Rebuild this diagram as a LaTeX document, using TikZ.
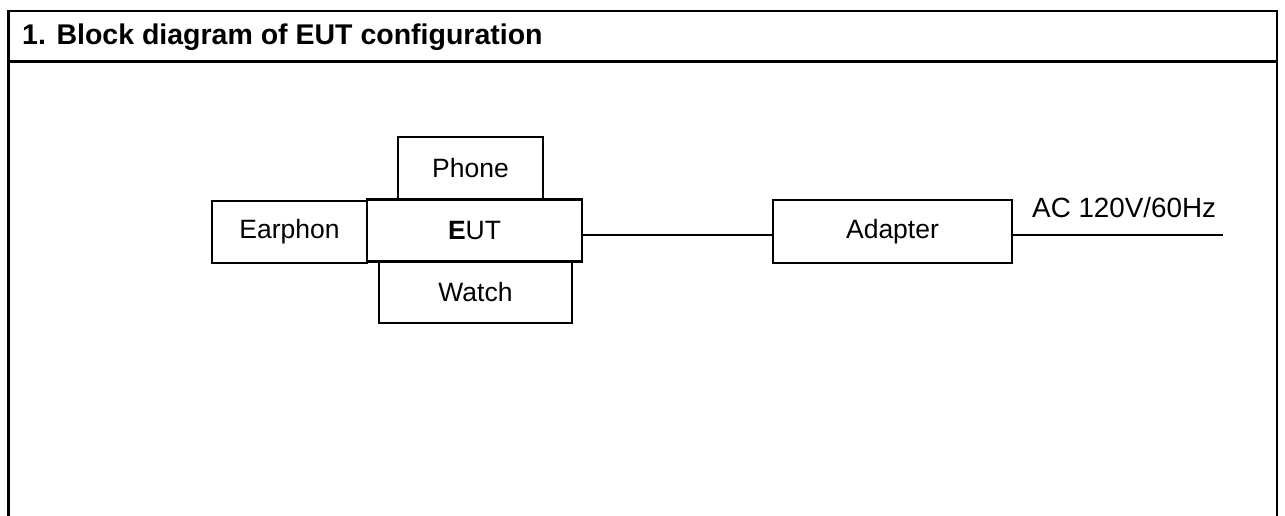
\documentclass[tikz,border=0pt]{standalone}
\usepackage{fontspec}
\setmainfont{Liberation Sans}
\begin{document}
\begin{tikzpicture}[x=1pt,y=-1pt,
  blk/.style={draw,line width=2pt,inner sep=0pt,font=\fontsize{26.5}{30}\selectfont},
  frame/.style={line width=2.7pt},
  wire/.style={line width=2pt}]
\useasboundingbox (0,0) rectangle (1285,516);
% frame
\draw[frame] (8.5,516) -- (8.5,11) -- (1277,11) -- (1277,516);
\draw[line width=2.6pt] (8.5,61.5) -- (1277,61.5);
\node[anchor=base west,font=\fontsize{28.5}{30}\selectfont\bfseries,inner sep=0pt] (title) at (22,45) {1. Block diagram of EUT configuration};
% boxes
\node[blk,minimum width=145pt,minimum height=62pt] (phone) at (470.5,168) {Phone};
\node[blk,minimum width=155pt,minimum height=62pt] (ear) at (289.5,232) {Earphon};
\node[blk,minimum width=193pt,minimum height=61pt] (watch) at (475.5,292.5) {Watch};
\node[blk,line width=2.8pt,minimum width=215pt,minimum height=62pt] (eut) at (474.5,230.5) {\textbf{E}UT};
\node[blk,minimum width=239pt,minimum height=63pt] (adapter) at (892.5,231.5) {Adapter};
\coordinate (acend) at (1223,234.5);
\draw[wire] (eut.east |- 0,235) -- (adapter.west |- 0,235);
\draw[wire] (adapter.east |- acend) -- (acend);
\node[anchor=base west,inner sep=0pt,font=\fontsize{27.8}{30}\selectfont] (ac) at (1032,217) {AC 120V/60Hz};
\end{tikzpicture}
\end{document}
